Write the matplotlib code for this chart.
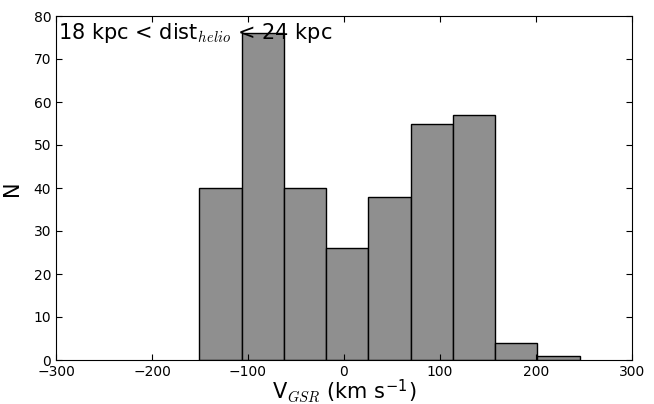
import numpy as np
import matplotlib.pyplot as plt

plt.rcParams['mathtext.fontset'] = 'custom'
plt.rcParams['mathtext.it'] = 'cmmi10'
plt.rcParams['mathtext.rm'] = 'DejaVu Sans'
plt.rcParams['mathtext.default'] = 'it'

# histogram of V_GSR
bin_edges = [-150.6, -106.6, -62.6, -18.6, 25.4, 69.4, 113.4, 157.4, 201.4, 245.4]
counts = [40, 76, 40, 26, 38, 55, 57, 4, 1]
xticks = [-300, -200, -100, 0, 100, 200, 300]
yticks = [0, 10, 20, 30, 40, 50, 60, 70, 80]

fig = plt.figure(figsize=(6.54, 4.04), dpi=100)
ax = fig.add_axes([56 / 654, 44 / 404, 576 / 654, 344 / 404])

centers = 0.5 * (np.array(bin_edges[:-1]) + np.array(bin_edges[1:]))
ax.hist(centers, bins=bin_edges, weights=counts, color='#8f8f8f',
        edgecolor='black', linewidth=1.0)

ax.set_xlim(-300, 300)
ax.set_ylim(0, 80)
ax.set_xticks(xticks)
ax.set_yticks(yticks)
ax.tick_params(direction='in', top=True, right=True, labelsize=10, length=4)
ax.set_xlabel('V$_{GSR}$ (km s$^{\u2212\\mathrm{1}}$)', fontsize=15, labelpad=-1)
ax.set_ylabel('N', fontsize=15, labelpad=8)
ax.text(0.003, 0.985, r'18 kpc < dist$_{helio}$ < 24 kpc', transform=ax.transAxes,
        fontsize=15, va='top', ha='left')

fig.savefig('out.png', dpi=100)
